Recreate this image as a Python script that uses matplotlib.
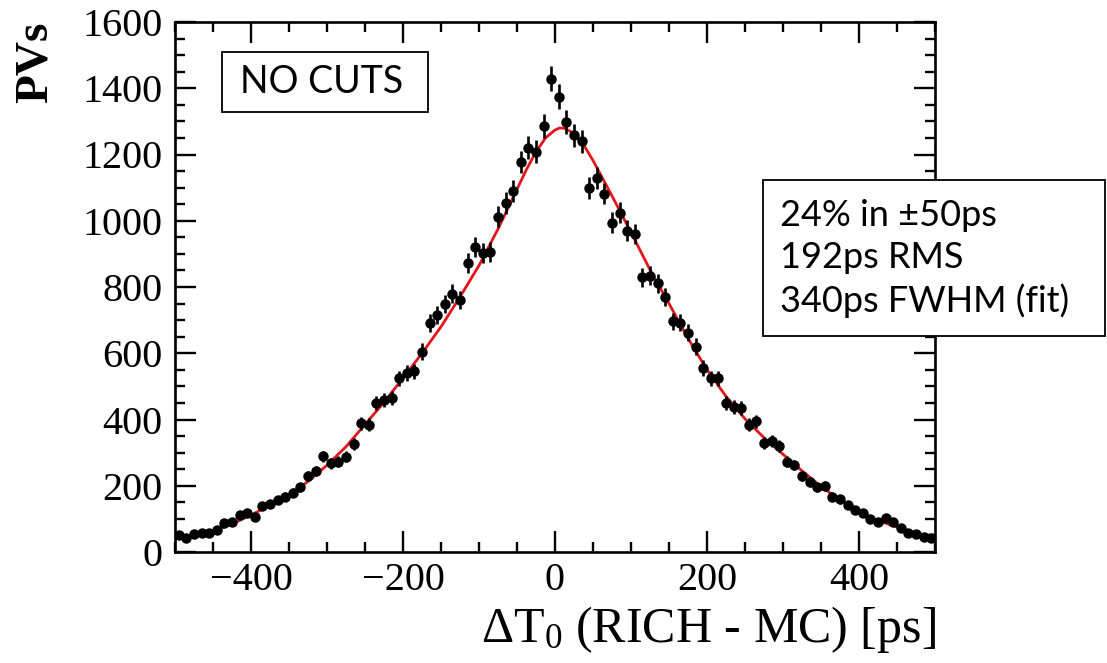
import numpy as np
import matplotlib
matplotlib.use("Agg")
from matplotlib import pyplot as plt
from matplotlib.patches import Rectangle
from matplotlib.ticker import MultipleLocator

# histogram: 100 bins of 10 ps between -500 and 500
bin_edges = np.linspace(-500, 500, 101)
counts = [51, 43, 54, 58, 57, 66, 89, 92, 112, 119,
          105, 139, 145, 157, 167, 179, 195, 230, 244, 289,
          268, 273, 288, 325, 389, 384, 449, 459, 464, 525,
          540, 545, 605, 691, 716, 749, 780, 761, 872, 921,
          902, 905, 1012, 1054, 1089, 1177, 1220, 1209, 1285, 1428,
          1375, 1297, 1258, 1240, 1100, 1129, 1082, 994, 1024, 970,
          960, 829, 834, 811, 769, 696, 692, 662, 620, 555,
          525, 525, 449, 439, 434, 384, 394, 328, 334, 320,
          273, 263, 228, 212, 195, 199, 167, 159, 142, 127,
          117, 99, 92, 102, 92, 72, 58, 54, 46, 41]

# fitted curve
fit_x = [-500, -475, -450, -425, -400, -375, -350, -325, -300, -275,
         -250, -225, -200, -175, -150, -125, -100, -75, -50, -37.5,
         -25, -12.5, 0, 6, 12.5, 25, 37.5, 50, 75, 100,
         125, 150, 175, 200, 225, 250, 275, 300, 325, 350,
         375, 400, 425, 450, 475, 500]
fit_y = [40, 50, 63, 84, 112, 140, 172, 213, 262, 318,
         385, 452, 525, 600, 680, 770, 865, 975, 1095, 1155,
         1208, 1250, 1274, 1280, 1279, 1264, 1230, 1182, 1075, 965,
         852, 750, 645, 550, 470, 402, 345, 295, 245, 198,
         157, 120, 95, 75, 57, 42]

xticks = [-400, -200, 0, 200, 400]
yticks = [0, 200, 400, 600, 800, 1000, 1200, 1400, 1600]

stats_lines = ["24% in \u00b150ps", "192ps RMS", "340ps FWHM (fit)"]

W, H = 1107, 663
serif = "Liberation Serif"
sans = "Lato"
plt.rcParams["mathtext.fontset"] = "custom"
plt.rcParams["mathtext.rm"] = serif
plt.rcParams["mathtext.it"] = serif + ":italic"


def fx(px):
    return px / W


def fy(py):
    return 1 - py / H


fig = plt.figure(figsize=(W / 100, H / 100), dpi=100)
ax = fig.add_axes([fx(175), fy(552), fx(935) - fx(175), fy(22) - fy(552)])

centers = 0.5 * (bin_edges[:-1] + bin_edges[1:])
c = np.array(counts, dtype=float)
ax.plot(fit_x, fit_y, color="#e4161c", lw=2.0, zorder=2)
ax.errorbar(centers, c, yerr=np.sqrt(c), fmt="o", color="black",
            ms=6.5, elinewidth=1.9, capsize=0, zorder=3)

ax.set_xlim(-500, 500)
ax.set_ylim(0, 1600)
ax.set_xticks(xticks)
ax.set_yticks(yticks)
ax.xaxis.set_minor_locator(MultipleLocator(50))
ax.yaxis.set_minor_locator(MultipleLocator(50))
ax.tick_params(which="both", direction="in", top=True, right=True, width=1.7)
ax.tick_params(which="major", length=15)
ax.tick_params(which="minor", length=7.5)
ax.tick_params(axis="x", which="major", pad=7)
ax.tick_params(axis="y", which="major", pad=9)
for lab in ax.get_xticklabels() + ax.get_yticklabels():
    lab.set_fontfamily(serif)
    lab.set_fontsize(29)
for s in ax.spines.values():
    s.set_linewidth(1.9)

fig.text(fx(36), fy(62), "PVs", rotation=90, ha="center", va="center",
         fontfamily=serif, fontsize=34, fontweight="bold")
fig.text(fx(936), fy(642), "\u0394T$_0$ (RICH - MC) [ps]", ha="right",
         va="baseline", fontfamily=serif, fontsize=36)

# "NO CUTS" box
fig.add_artist(Rectangle((fx(222), fy(112)), fx(428) - fx(222), fy(52) - fy(112),
                         transform=fig.transFigure, facecolor="white",
                         edgecolor="black", lw=1.3, zorder=5))
fig.text(fx(322), fy(82), "NO CUTS", ha="center", va="center",
         fontfamily=sans, fontsize=27, zorder=6)

# stats box
fig.add_artist(Rectangle((fx(763), fy(336)), fx(1105) - fx(763), fy(180) - fy(336),
                         transform=fig.transFigure, facecolor="white",
                         edgecolor="black", lw=1.3, zorder=5))
for i, line in enumerate(stats_lines):
    fig.text(fx(780), fy(215 + 43 * i), line, ha="left", va="center",
             fontfamily=sans, fontsize=26, zorder=6)

fig.savefig("out.png", dpi=100)
